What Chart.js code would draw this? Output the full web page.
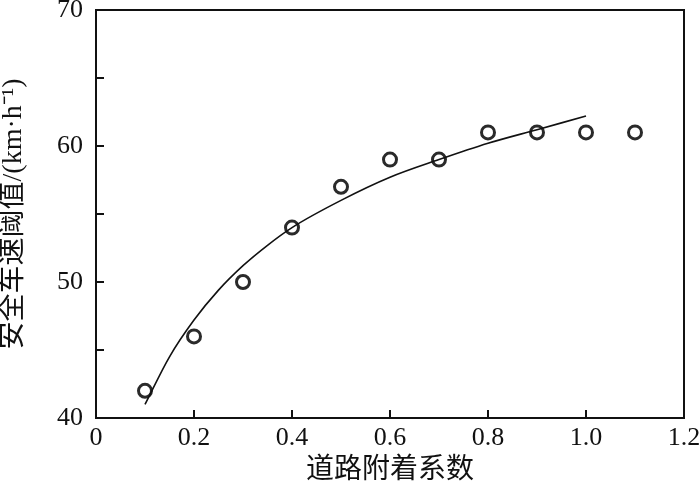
<!DOCTYPE html>
<html><head><meta charset="utf-8">
<script src="https://cdn.jsdelivr.net/npm/chart.js@4"></script>
<style>html,body{margin:0;padding:0;background:#fff}#wrap{width:700px;height:487px}</style>
</head><body><div id="wrap"><canvas id="c" width="700" height="487"></canvas></div>
<script>
// Measured data points
const pointX = [0.1, 0.2, 0.3, 0.4, 0.5, 0.6, 0.7, 0.8, 0.9, 1.0, 1.1];
const pointY = [42, 46, 50, 54, 57, 59, 59, 61, 61, 61, 61];
// Fitted curve
const curveX = [0.1, 0.15, 0.2, 0.25, 0.3, 0.35, 0.4, 0.5, 0.6, 0.7, 0.8, 0.9, 1.0];
const curveY = [41.0, 44.5, 47.2, 49.4, 51.2, 52.7, 54.0, 56.0, 57.7, 59.0, 60.2, 61.2, 62.2];
const xTicks = [0, 0.2, 0.4, 0.6, 0.8, 1.0, 1.2];
const yTicks = [40, 45, 50, 55, 60, 65, 70];
const xTitle = '道路附着系数';
const yTitle = '安全车速阈值/(km·h⁻¹)';

const FONT = "'Liberation Serif','Times New Roman','Noto Sans CJK SC',serif";

const framePlugin = {
  id: 'frame',
  afterDraw(chart) {
    const {ctx, chartArea: a, scales} = chart;
    ctx.save();
    ctx.strokeStyle = '#111';
    ctx.lineWidth = 2;
    ctx.strokeRect(a.left, a.top, a.right - a.left, a.bottom - a.top);
    ctx.beginPath();
    yTicks.forEach(v => {
      const y = Math.round(scales.y.getPixelForValue(v));
      ctx.moveTo(a.left, y); ctx.lineTo(a.left + 8, y);
    });
    xTicks.forEach(v => {
      const x = Math.round(scales.x.getPixelForValue(v));
      ctx.moveTo(x, a.bottom); ctx.lineTo(x, a.bottom - 8);
    });
    ctx.stroke();
    ctx.restore();
  }
};

new Chart(document.getElementById('c'), {
  type: 'scatter',
  data: {
    datasets: [
      {
        data: curveX.map((x, i) => ({x, y: curveY[i]})),
        showLine: true, borderColor: '#111', borderWidth: 1.6,
        pointRadius: 0, tension: 0.4, cubicInterpolationMode: 'monotone', fill: false
      },
      {
        data: pointX.map((x, i) => ({x, y: pointY[i]})),
        pointStyle: 'circle', pointRadius: 6.5, pointBorderWidth: 3,
        pointBorderColor: '#2a2a2a', pointBackgroundColor: 'rgba(255,255,255,0)', showLine: false
      }
    ]
  },
  options: {
    responsive: false, animation: false,
    layout: {padding: {top: 10, right: 16, left: 0, bottom: 0}},
    plugins: {legend: {display: false}, tooltip: {enabled: false}},
    scales: {
      x: {
        type: 'linear', min: 0, max: 1.2,
        afterBuildTicks(s) { s.ticks = xTicks.map(v => ({value: v})); },
        afterFit(s) { s.height = 69; s.paddingLeft = 0; s.paddingRight = 0; },
        grid: {display: false, drawTicks: false},
        border: {display: false},
        ticks: {padding: 5, color: '#111', font: {family: FONT, size: 26},
          callback: v => v === 0 ? '0' : Number(v).toFixed(1)},
        title: {display: true, text: xTitle, color: '#111', padding: {top: -2, bottom: 0},
          font: {family: FONT, size: 28}}
      },
      y: {
        type: 'linear', min: 40, max: 70,
        afterBuildTicks(s) { s.ticks = yTicks.map(v => ({value: v})); },
        afterFit(s) { s.width = 96; s.paddingTop = 0; s.paddingBottom = 0; },
        grid: {display: false, drawTicks: false},
        border: {display: false},
        ticks: {padding: 13, color: '#111', font: {family: FONT, size: 26},
          callback: v => (v % 10 === 0 ? String(v) : '')},
        title: {display: true, text: yTitle, color: '#111', padding: {top: -3, bottom: 0},
          font: {family: FONT, size: 28}}
      }
    }
  },
  plugins: [framePlugin]
});
</script></body></html>
